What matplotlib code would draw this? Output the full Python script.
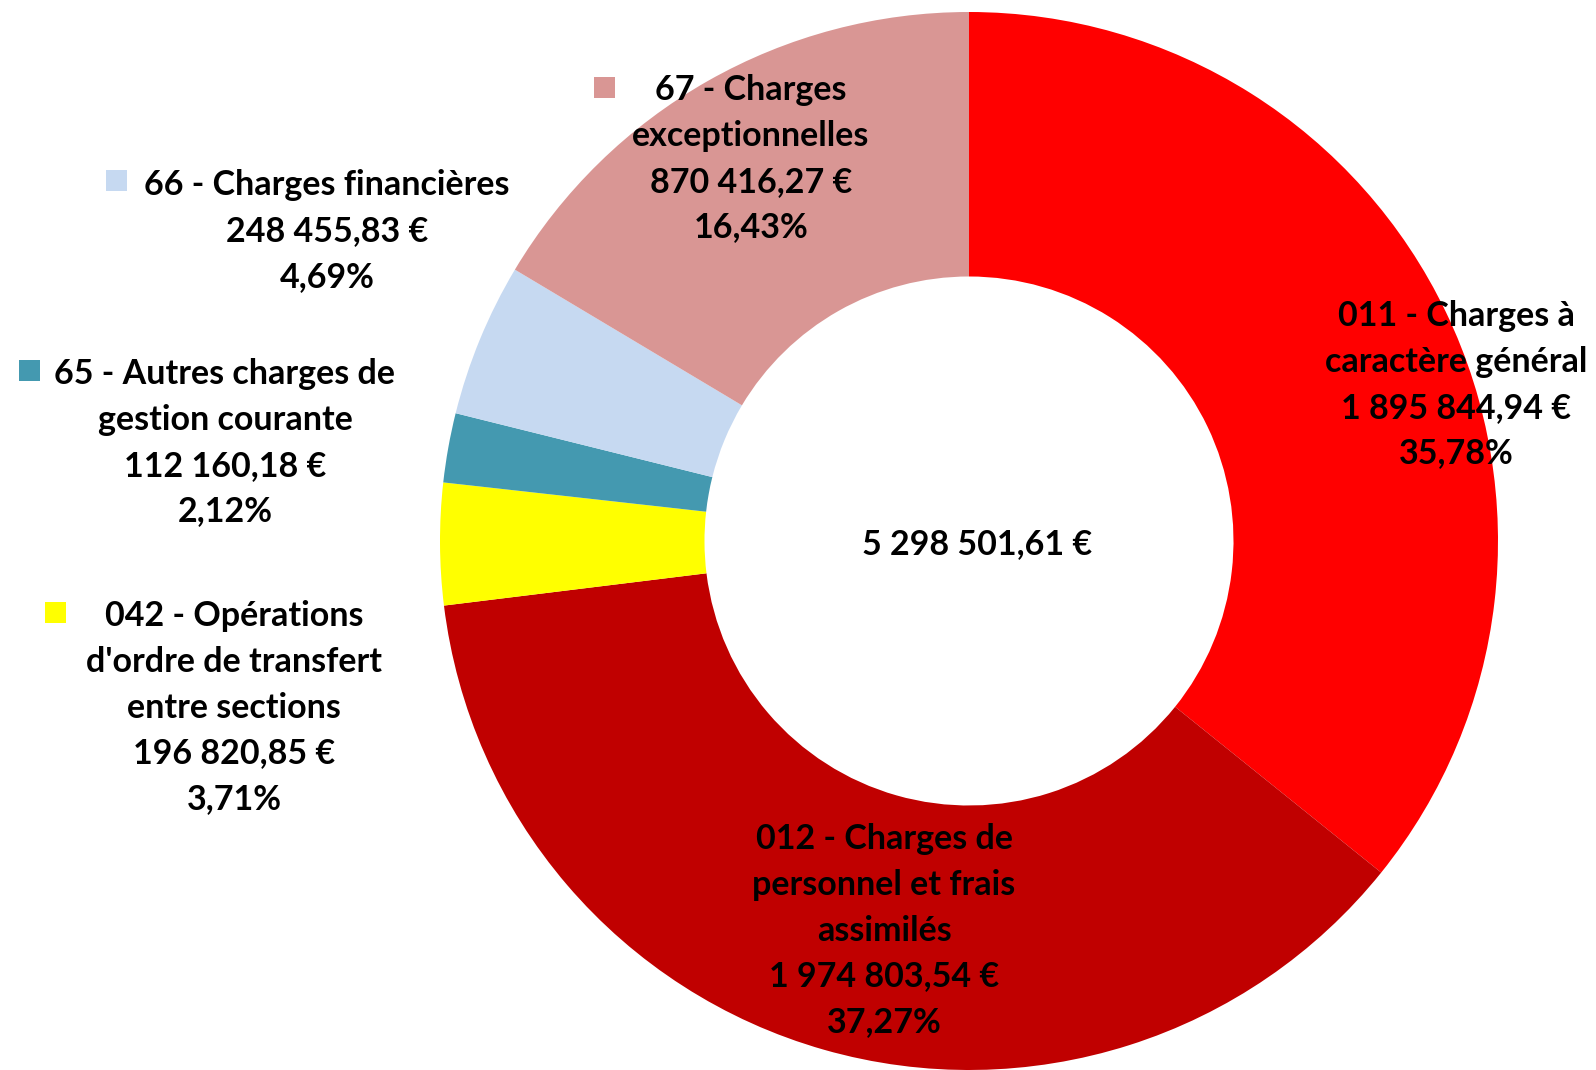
import matplotlib
matplotlib.use("Agg")
import matplotlib.pyplot as plt
from matplotlib.patches import Rectangle

# ---- data ----
codes = ["011", "012", "042", "65", "66", "67"]
names = [
    "Charges à\ncaractère général",
    "Charges de\npersonnel et frais\nassimilés",
    "Opérations\nd'ordre de transfert\nentre sections",
    "Autres charges de\ngestion courante",
    "Charges financières",
    "Charges\nexceptionnelles",
]
values = [1895844.94, 1974803.54, 196820.85, 112160.18, 248455.83, 870416.27]
colors = ["#FF0000", "#C00000", "#FFFF00", "#4499B0", "#C6D9F1", "#D99694"]
show_square = [False, False, True, True, True, True]

# ---- layout (pixels, top-left origin) ----
W, H = 1596, 1070
cx, cy, R = 969, 541, 529
label_pos = [(1456, 316), (884, 839), (234, 616), (225, 374), (327, 185), (751, 90)]
square_pos = [None, None, (55, 612), (29, 370), (116, 180), (604, 87)]
line_gap = 45.8
FS = 24.5
FONT = ["Lato", "DejaVu Sans"]

total = sum(values)


def fmt_money(v):
    s = f"{v:,.2f}"
    s = s.replace(",", " ").replace(".", ",")
    return s + " €"


def fmt_pct(v):
    return f"{v / total * 100:.2f}".replace(".", ",") + "%"


fig = plt.figure(figsize=(W / 100, H / 100), dpi=100)
ax = fig.add_axes([0, 0, 1, 1])
ax.pie(values, colors=colors, startangle=90, counterclock=False, radius=1.0,
       wedgeprops=dict(width=0.5, linewidth=0))
ax.set_aspect("auto")
ax.set_xlim(-cx / R, (W - cx) / R)
ax.set_ylim(-(H - cy) / R, cy / R)
ax.axis("off")

ov = fig.add_axes([0, 0, 1, 1], facecolor="none")
ov.set_xlim(0, W)
ov.set_ylim(H, 0)
ov.axis("off")

for i in range(len(values)):
    name_lines = names[i].split("\n")
    lines = [f"{codes[i]} - {name_lines[0]}"] + name_lines[1:] + [fmt_money(values[i]), fmt_pct(values[i])]
    x0, y0 = label_pos[i]
    for j, ln in enumerate(lines):
        ov.text(x0, y0 + j * line_gap, ln, ha="center", va="center", fontsize=FS,
                fontweight="bold", family=FONT, color="black")
    if show_square[i]:
        sx, sy = square_pos[i]
        ov.add_patch(Rectangle((sx - 10.5, sy - 10.5), 21, 21, facecolor=colors[i], edgecolor="none"))

ov.text(977, 544, fmt_money(total), ha="center", va="center", fontsize=FS,
        fontweight="bold", family=FONT, color="black")

fig.savefig("out.png", dpi=100)
